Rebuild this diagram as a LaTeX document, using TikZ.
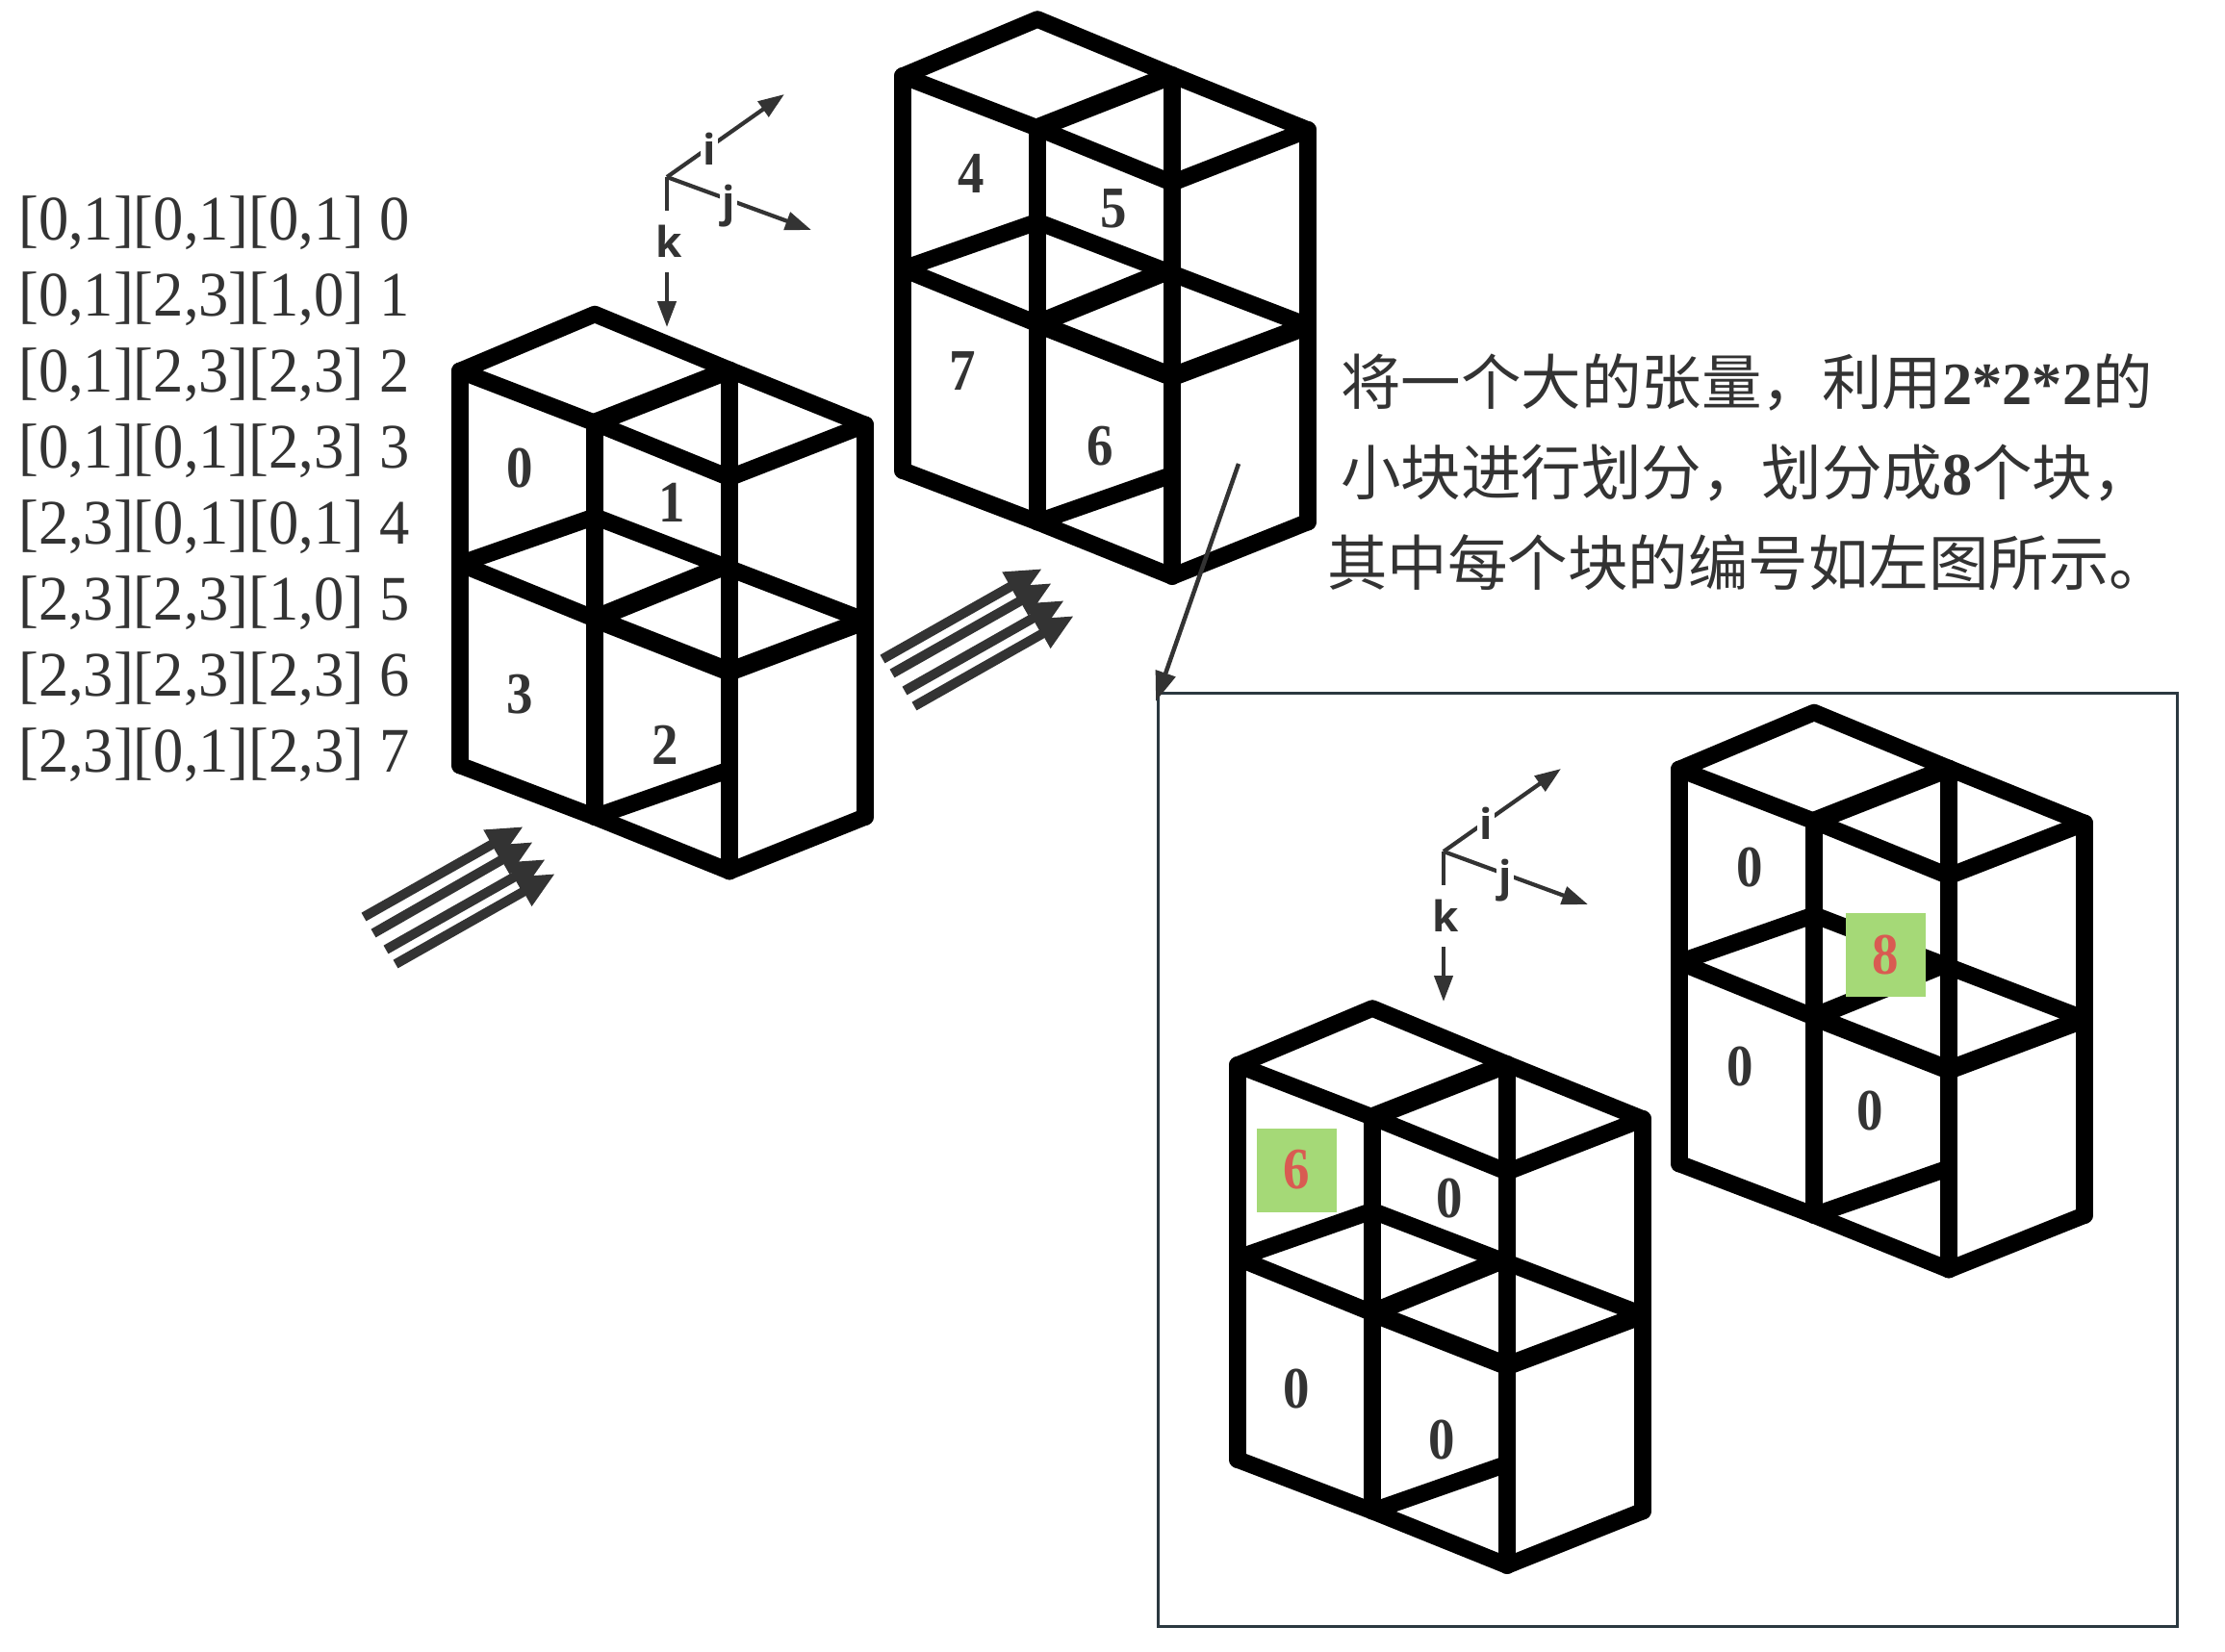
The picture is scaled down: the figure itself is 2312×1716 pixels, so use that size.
\documentclass[tikz,border=0pt]{standalone}
\usepackage{fontspec}
\usetikzlibrary{arrows.meta}
\setmainfont{Liberation Serif}
\newfontfamily\cjkfont{Noto Sans CJK SC}
\newfontfamily\axisfont{Open Sans}
\newfontfamily\numfont[FakeStretch=0.9]{Liberation Serif Bold}
\newfontfamily\listfont[FakeStretch=0.947]{Liberation Serif}
\definecolor{ink}{HTML}{333333}
\definecolor{framecol}{HTML}{2B3840}
\definecolor{boxgreen}{HTML}{A5D977}
\definecolor{numred}{HTML}{D95B52}
\tikzset{
  x=1pt,y=-1pt,
  vedge/.style={line width=18pt,line cap=round,line join=round,black},
  thinedge/.style={line width=17.5pt,line cap=round,line join=round,black},
  thickedge/.style={line width=19.5pt,line cap=butt,line join=round,black},
  numlabel/.style={text=ink,inner sep=0pt,font=\fontsize{61}{61}\selectfont\numfont},
  greenbox/.style={fill=boxgreen,text=numred,inner sep=0pt,minimum width=83pt,minimum height=87pt,font=\fontsize{61}{61}\selectfont\numfont},
  listline/.style={anchor=base west,text=ink,inner sep=0pt,font=\fontsize{66}{66}\selectfont\listfont},
  cjkline/.style={anchor=base west,text=ink,inner sep=0pt,font=\fontsize{62.5}{63}\selectfont\cjkfont},
  axislabel/.style={text=ink,fill=white,inner sep=0pt,font=\fontsize{44}{44}\selectfont\axisfont\bfseries},
  axisline/.style={draw=ink,line width=4.2pt,-{Triangle[length=27pt,width=19pt]}},
  fatarrow/.style={draw=ink,fill=none,line width=10pt,-{Triangle[length=38pt,width=32pt]}},
  longarrow/.style={draw=ink,line width=4.5pt,-{Triangle[length=31pt,width=21pt]}},
  stackcube/.pic={
    \coordinate (O) at (0,0);
    \coordinate (L) at (-140,59);
    \coordinate (C) at (0,113);
    \coordinate (R) at (140,58);
    \coordinate (RR) at (281,115);
    \coordinate (M) at (140,170);
    \coordinate (O2) at (0,210.5);
    \coordinate (L2) at (-140,259.5);
    \coordinate (C2) at (0,316.5);
    \coordinate (R2) at (140,259.5);
    \coordinate (RR2) at (281,318.5);
    \coordinate (M2) at (140,371.5);
    \coordinate (L3) at (-140,469);
    \coordinate (C3) at (0,522.5);
    \coordinate (R3) at (140,473.5);
    \coordinate (RR3) at (281,522.5);
    \coordinate (M3) at (140,579);
    \draw[thinedge] (L) -- (O) -- (R) -- (RR);
    \draw[thinedge] (L) -- (C);
    \draw[thickedge] (C) -- (R);
    \draw[thinedge] (C) -- (M) -- (RR);
    \draw[thinedge] (L2) -- (O2) -- (RR2);
    \draw[thickedge] (C2) -- (R2);
    \draw[thinedge] (L2) -- (C2);
    \draw[thickedge] (C2) -- (M2) -- (RR2);
    \draw[thinedge] (L3) -- (C3) -- (M3) -- (RR3);
    \draw[thinedge] (C3) -- (R3);
    \draw[vedge] (L) -- (L3);
    \draw[vedge] (C) -- (C3);
    \draw[vedge] (R) -- (M3);
    \draw[vedge] (RR) -- (RR3);
  },
  axespic/.pic={
    \coordinate (o) at (0,0);
    \coordinate (itip) at (122,-86);
    \coordinate (jtip) at (150,55);
    \coordinate (ktip) at (0,156);
    \draw[axisline] (o) -- (itip);
    \draw[axisline] (o) -- (jtip);
    \draw[axisline] (o) -- (ktip);
    \node[axislabel,minimum width=18pt,minimum height=44pt] (ilab) at (44,-29) {i};
    \node[axislabel,minimum width=18pt,minimum height=44pt] (jlab) at (64,30) {j};
    \node[axislabel,minimum width=32pt,minimum height=64pt] (klab) at (2,67) {k};
  },
}
\begin{document}
\begin{tikzpicture}
\useasboundingbox (0,0) rectangle (2312,1716);
\fill[white] (0,0) rectangle (2312,1716);

% index list
\node[listline] (l0) at (19,249) {[0,1][0,1][0,1] 0};
\node[listline] (l1) at (19,328) {[0,1][2,3][1,0] 1};
\node[listline] (l2) at (19,407) {[0,1][2,3][2,3] 2};
\node[listline] (l3) at (19,486) {[0,1][0,1][2,3] 3};
\node[listline] (l4) at (19,565) {[2,3][0,1][0,1] 4};
\node[listline] (l5) at (19,644) {[2,3][2,3][1,0] 5};
\node[listline] (l6) at (19,723) {[2,3][2,3][2,3] 6};
\node[listline] (l7) at (19,802) {[2,3][0,1][2,3] 7};

% cubes
\pic (cubeA) at (618,326.5) {stackcube};
\pic (cubeB) at (1078,20) {stackcube};
\pic (cubeC) at (1426,1048) {stackcube};
\pic (cubeD) at (1885,740.5) {stackcube};

% axes
\pic (axA) at (693,184) {axespic};
\pic (axB) at (1500,885) {axespic};

% cube A numbers
\node[numlabel] (a0) at (540,487) {0};
\node[numlabel] (a1) at (698,522) {1};
\node[numlabel] (a3) at (540,722) {3};
\node[numlabel] (a2) at (691,774) {2};
% cube B numbers
\node[numlabel] (b4) at (1009,180) {4};
\node[numlabel] (b5) at (1157,217) {5};
\node[numlabel] (b7) at (1000,386) {7};
\node[numlabel] (b6) at (1143,464) {6};
% cube C numbers
\node[greenbox] (c6) at (1347.5,1216) {6};
\node[numlabel] (c0a) at (1506,1245) {0};
\node[numlabel] (c0b) at (1347,1443.5) {0};
\node[numlabel] (c0c) at (1498,1496) {0};
% cube D numbers
\node[numlabel] (d0a) at (1818,902) {0};
\node[numlabel] (d0b) at (1808,1108) {0};
\node[numlabel] (d0c) at (1943,1154) {0};
\node[greenbox] (d8) at (1959.5,992) {8};

% fat arrow bundles
\foreach \n/\ax/\ay/\bx/\by in {1/378/953/544/859,2/388/970/554/875,3/401/987/567/893,4/411/1002/577/908,
                                5/917/685/1083/591,6/927/700/1093/606,7/940/718/1106/624,8/950/734/1116/640}{
  \coordinate (tail\n) at (\ax,\ay);
  \coordinate (head\n) at (\bx,\by);
  \draw[fatarrow] (tail\n) -- (head\n);
}

% description
\node[cjkline] (t1) at (1393,420) {将一个大的张量，利用{\rmfamily\bfseries 2*2*2}的};
\node[cjkline] (t2) at (1393,514) {小块进行划分，划分成{\rmfamily\bfseries 8}个块，};
\node[cjkline] (t3) at (1379,608) {其中每个块的编号如左图所示。};

% inset frame and pointer
\node[draw=framecol,line width=3pt,inner sep=0pt,minimum width=1059pt,minimum height=970pt,anchor=north west] (inset) at (1202,719) {};
\coordinate (ptrstart) at (1287,482);
\coordinate (ptrend) at (1201,729);
\draw[longarrow] (ptrstart) -- (ptrend);
\end{tikzpicture}
\end{document}
